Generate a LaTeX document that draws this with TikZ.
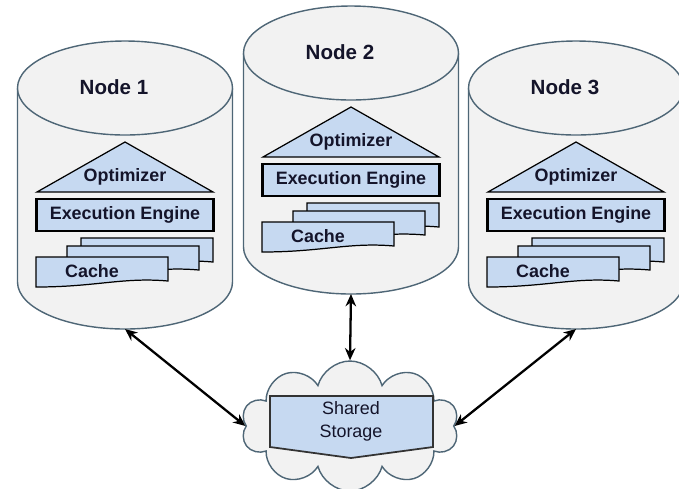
\documentclass[tikz,border=0pt]{standalone}
\usepackage{fontspec}
\setmainfont{Liberation Sans}
\usetikzlibrary{shapes.symbols,arrows.meta}

\definecolor{drumgray}{HTML}{F2F2F2}
\definecolor{drumline}{HTML}{4E6676}
\definecolor{partblue}{HTML}{C6D9F1}
\definecolor{inktext}{HTML}{14142A}

\begin{document}
\begin{tikzpicture}[x=0.02cm, y=-0.02cm,
    drum/.style={fill=drumgray, draw=drumline, line width=0.8pt},
    part/.style={fill=partblue, draw=black, line width=0.7pt},
    label/.style={font=\fontsize{10.2}{12}\selectfont\bfseries, text=inktext, inner sep=0pt},
    title/.style={font=\fontsize{11.7}{14}\selectfont\bfseries, text=inktext, inner sep=0pt},
    engine/.style={part, line width=1.6pt, minimum width=3.54cm, minimum height=0.64cm, inner sep=0pt, label},
    link/.style={{Stealth[length=7pt,width=6pt]}-{Stealth[length=7pt,width=6pt]}, line width=1.3pt}]
    \useasboundingbox (0,0) rectangle (679,488);
    \clip (0,0) rectangle (679,488);

    % the three database nodes
    \foreach \i/\cx/\dy in {1/125/0, 2/351/-35, 3/576/0} {
        \begin{scope}[shift={(\cx,\dy)}]
            \draw[drum] (-107.5,88) -- (-107.5,282) arc (180:0:107.5 and 47) -- (107.5,88);
            \draw[drum] (0,88) ellipse (107.5 and 47);
            \node[title] (node\i) at (-11,87) {Node \i};
            \coordinate (base\i) at (0,329);

            % optimizer and engine
            \draw[part] (0,142) -- (88,192) -- (-88,192) -- cycle;
            \node[label] (opt\i) at (0,177) {Optimizer};
            \node[engine] (exec\i) at (0,215) {Execution Engine};

            % cache pages, back to front
            \foreach \x/\y in {-44/238, -58/246, -89/257}
                \draw[part] (\x,\y) -- ++(132,0) -- ++(0,24) .. controls +(-45,-4) and +(60,0) .. ++(-132,6) -- cycle;
            \node[label] (cache\i) at (-33,271) {Cache};
        \end{scope}
    }

    % shared storage
    \node[cloud, cloud puffs=10, cloud puff arc=150, cloud ignores aspect, draw=drumline, fill=drumgray, line width=0.8pt,
          minimum width=4.35cm, minimum height=2.6cm] (store) at (350,426) {};
    \draw[fill=partblue, draw=black!80, line width=1pt] (270,396) -- (433,396) -- (433,447) -- (351,458) -- (270,447) -- cycle;
    \node[align=center, font=\fontsize{10.2}{13}\selectfont, text=inktext] (storetext) at (351,421) {Shared\\Storage};

    \draw[link] (base1) -- (store.west);
    \draw[link] (base2) -- (store.north);
    \draw[link] (base3) -- (store.east);
\end{tikzpicture}
\end{document}
